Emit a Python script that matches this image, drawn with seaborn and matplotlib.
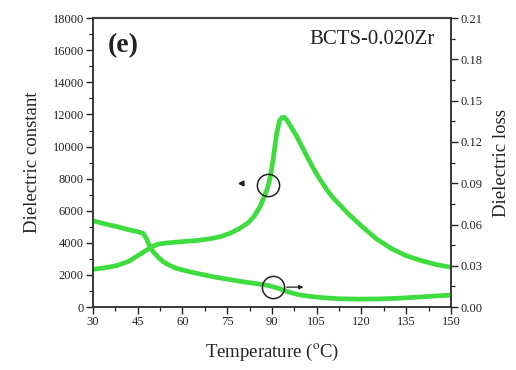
import numpy as np
import pandas as pd
import matplotlib
matplotlib.use("Agg")
import matplotlib.pyplot as plt
import seaborn as sns
from matplotlib.ticker import MultipleLocator, FormatStrFormatter

# ---- data ----
temp_eps = [30, 34, 38, 42, 45, 48, 50, 52, 55, 60, 65, 70, 73, 76, 79, 82, 84, 86, 87.5,
            88.5, 89.5, 90.5, 91.5, 92.5, 93.3, 94.1, 95, 96.5, 98.4, 101.7, 104, 106,
            108.3, 110.6, 113, 115, 117.5, 120, 125, 130, 135, 140, 145, 150]
eps = [2350, 2450, 2580, 2850, 3200, 3550, 3780, 3930, 4000, 4080, 4150, 4280, 4400, 4600,
       4880, 5250, 5650, 6250, 6900, 7400, 8150, 9350, 10700, 11600, 11800, 11830, 11650,
       11200, 10600, 9400, 8600, 7980, 7330, 6780, 6320, 5920, 5480, 5050, 4250, 3650,
       3200, 2900, 2650, 2480]

temp_loss = [30, 34, 38, 42, 45, 46.9, 48, 48.6, 50.2, 52, 53.6, 56, 58, 62.6, 66, 70, 75,
             80, 85, 88, 90, 92, 94, 96, 99, 103, 108, 113, 120, 127, 133, 140, 145, 150]
loss = [0.0627, 0.0605, 0.0585, 0.0562, 0.0548, 0.0535, 0.0495, 0.0463, 0.0402, 0.0360,
        0.0329, 0.0300, 0.0281, 0.0256, 0.0240, 0.0222, 0.0203, 0.0185, 0.0170, 0.0160,
        0.0150, 0.0137, 0.0122, 0.0107, 0.0090, 0.0077, 0.0067, 0.0060, 0.0058, 0.0060,
        0.0065, 0.0074, 0.0081, 0.0087]

x_ticks = [30, 45, 60, 75, 90, 105, 120, 135, 150]
sample_label = "BCTS-0.020Zr"
panel_label = "(e)"

# annotation marker positions (data coords)
circle_eps = (88.7, 7600)
arrow_eps = (79.7, 7720)
circle_loss = (90.4, 0.0145)
arrow_loss_start = (94.0, 0.0145)
arrow_loss_end = (101.5, 0.0145)

df_eps = pd.DataFrame({"T": temp_eps, "eps": eps})
df_loss = pd.DataFrame({"T": temp_loss, "loss": loss})

sns.set_style("ticks")
plt.rcParams["font.family"] = ["Liberation Serif", "DejaVu Serif"]
plt.rcParams["mathtext.fontset"] = "stix"

green = "#3fdc3f"
fig = plt.figure(figsize=(5.16, 3.70), dpi=100)
ax = fig.add_axes([0.180, 0.170, 0.694, 0.781])
ax2 = ax.twinx()

sns.lineplot(data=df_eps, x="T", y="eps", ax=ax, color=green, lw=3.4, legend=False)
sns.lineplot(data=df_loss, x="T", y="loss", ax=ax2, color=green, lw=3.4, legend=False)

ax.set_xlim(30, 150)
ax.set_ylim(0, 18000)
ax2.set_ylim(0, 0.21)

ax.set_xticks(x_ticks)
ax.xaxis.set_minor_locator(MultipleLocator(7.5))
ax.yaxis.set_major_locator(MultipleLocator(2000))
ax.yaxis.set_minor_locator(MultipleLocator(1000))
ax2.yaxis.set_major_locator(MultipleLocator(0.03))
ax2.yaxis.set_minor_locator(MultipleLocator(0.015))
ax2.yaxis.set_major_formatter(FormatStrFormatter("%.2f"))

for a in (ax, ax2):
    a.tick_params(which="major", direction="out", length=5, width=1, labelsize=9,
                  colors="#222222", pad=1.5)
    a.tick_params(which="minor", direction="out", length=3, width=0.9, colors="#222222")
    for s in a.spines.values():
        s.set_visible(True)
        s.set_color("#333333")
        s.set_linewidth(1.1)
ax.spines["top"].set_color("#777777")
ax.spines["top"].set_linewidth(1.6)

ax.set_xlabel("Temperature ($^{\\mathrm{o}}$C)", fontsize=13.5, color="#222222", labelpad=10)
ax.set_ylabel("Dielectric constant", fontsize=13.5, color="#222222", labelpad=8)
ax2.set_ylabel("Dielectric loss", fontsize=13.5, color="#222222", labelpad=8)

ax.text(0.042, 0.905, panel_label, transform=ax.transAxes, fontsize=20, fontweight="bold",
        ha="left", va="center", color="#222222")
ax.text(0.955, 0.925, sample_label, transform=ax.transAxes, fontsize=15,
        ha="right", va="center", color="#222222")

# circles and arrows
ax.plot([circle_eps[0]], [circle_eps[1]], marker="o", ms=16, mfc="none", mec="#222222", mew=1.1)
ax.plot([arrow_eps[0]], [arrow_eps[1]], marker="<", ms=3.5, color="#222222")
ax2.plot([circle_loss[0]], [circle_loss[1]], marker="o", ms=16, mfc="none", mec="#222222", mew=1.1)
ax2.annotate("", xy=arrow_loss_end, xytext=arrow_loss_start,
             arrowprops=dict(arrowstyle="-|>", color="#222222", lw=0.9, mutation_scale=6))

fig.savefig("out.png", dpi=100)
